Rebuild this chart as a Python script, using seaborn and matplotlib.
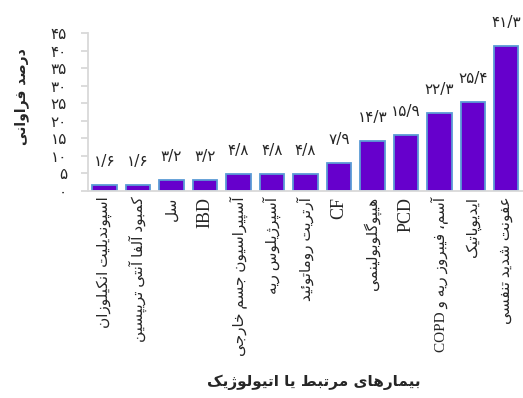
import matplotlib
matplotlib.use("Agg")
import matplotlib.pyplot as plt
import seaborn as sns
import pandas as pd

# ---------------- data ----------------
categories = [
    "اسپوندیلیت انکیلوزان",
    "کمبود آلفا آنتی تریپسین",
    "سل",
    "IBD",
    "آسپیراسیون جسم خارجی",
    "آسپرژیلوس ریه",
    "آرتریت روماتوئید",
    "CF",
    "هیپوگلوبولینمی",
    "PCD",
    "آسم، فیبروز ریه و COPD",
    "ایدیوپاتیک",
    "عفونت شدید تنفسی",
]
values = [1.6, 1.6, 3.2, 3.2, 4.8, 4.8, 4.8, 7.9, 14.3, 15.9, 22.3, 25.4, 41.3]
y_ticks = [0, 5, 10, 15, 20, 25, 30, 35, 40, 45]
y_label = "درصد فراوانی"
x_label = "بیمارهای مرتبط یا اتیولوژیک"

# ---------------- minimal Persian shaping ----------------
FORMS = {
    # char: (isolated, final, initial, medial)  None for right-joining-only
    "ا": ("\uFE8D", "\uFE8E", None, None),
    "آ": ("\uFE81", "\uFE82", None, None),
    "ب": ("\uFE8F", "\uFE90", "\uFE91", "\uFE92"),
    "پ": ("\uFB56", "\uFB57", "\uFB58", "\uFB59"),
    "ت": ("\uFE95", "\uFE96", "\uFE97", "\uFE98"),
    "ث": ("\uFE99", "\uFE9A", "\uFE9B", "\uFE9C"),
    "ج": ("\uFE9D", "\uFE9E", "\uFE9F", "\uFEA0"),
    "چ": ("\uFB7A", "\uFB7B", "\uFB7C", "\uFB7D"),
    "ح": ("\uFEA1", "\uFEA2", "\uFEA3", "\uFEA4"),
    "خ": ("\uFEA5", "\uFEA6", "\uFEA7", "\uFEA8"),
    "د": ("\uFEA9", "\uFEAA", None, None),
    "ذ": ("\uFEAB", "\uFEAC", None, None),
    "ر": ("\uFEAD", "\uFEAE", None, None),
    "ز": ("\uFEAF", "\uFEB0", None, None),
    "ژ": ("\uFB8A", "\uFB8B", None, None),
    "س": ("\uFEB1", "\uFEB2", "\uFEB3", "\uFEB4"),
    "ش": ("\uFEB5", "\uFEB6", "\uFEB7", "\uFEB8"),
    "ص": ("\uFEB9", "\uFEBA", "\uFEBB", "\uFEBC"),
    "ض": ("\uFEBD", "\uFEBE", "\uFEBF", "\uFEC0"),
    "ط": ("\uFEC1", "\uFEC2", "\uFEC3", "\uFEC4"),
    "ظ": ("\uFEC5", "\uFEC6", "\uFEC7", "\uFEC8"),
    "ع": ("\uFEC9", "\uFECA", "\uFECB", "\uFECC"),
    "غ": ("\uFECD", "\uFECE", "\uFECF", "\uFED0"),
    "ف": ("\uFED1", "\uFED2", "\uFED3", "\uFED4"),
    "ق": ("\uFED5", "\uFED6", "\uFED7", "\uFED8"),
    "ک": ("\uFB8E", "\uFB8F", "\uFB90", "\uFB91"),
    "گ": ("\uFB92", "\uFB93", "\uFB94", "\uFB95"),
    "ل": ("\uFEDD", "\uFEDE", "\uFEDF", "\uFEE0"),
    "م": ("\uFEE1", "\uFEE2", "\uFEE3", "\uFEE4"),
    "ن": ("\uFEE5", "\uFEE6", "\uFEE7", "\uFEE8"),
    "ه": ("\uFEE9", "\uFEEA", "\uFEEB", "\uFEEC"),
    "و": ("\uFEED", "\uFEEE", None, None),
    "ی": ("\uFBFC", "\uFBFD", "\uFBFE", "\uFBFF"),
    "ئ": ("\uFE89", "\uFE8A", "\uFE8B", "\uFE8C"),
}


def _dual(c):
    return c in FORMS and FORMS[c][2] is not None


def shape_rtl(s):
    out = []
    n = len(s)
    for i, c in enumerate(s):
        if c not in FORMS:
            out.append(c)
            continue
        prev_c = s[i - 1] if i > 0 else ""
        next_c = s[i + 1] if i + 1 < n else ""
        jp = _dual(prev_c)
        jn = _dual(c) and next_c in FORMS
        iso, fin, ini, med = FORMS[c]
        if jp and jn:
            out.append(med)
        elif jp:
            out.append(fin)
        elif jn:
            out.append(ini)
        else:
            out.append(iso)
    return "".join(out)


def visual(s):
    # split into latin runs and others, RTL paragraph
    tokens = []
    cur = ""
    cur_latin = None
    for c in s:
        is_lat = c.isascii() and c.isalnum()
        if cur_latin is None or is_lat == cur_latin or c == " " and cur_latin:
            if c == " " and cur_latin:
                tokens.append((cur, True))
                cur, cur_latin = c, False
                continue
            cur += c
            cur_latin = is_lat if cur_latin is None else cur_latin
        else:
            tokens.append((cur, cur_latin))
            cur, cur_latin = c, is_lat
    if cur:
        tokens.append((cur, cur_latin))
    res = []
    for t, lat in reversed(tokens):
        res.append(t if lat else shape_rtl(t)[::-1])
    return "".join(res)


def fa_num(v):
    d = "۰۱۲۳۴۵۶۷۸۹"
    s = str(v).replace(".", "/")
    return "".join(d[int(ch)] if ch.isdigit() else ch for ch in s)


# ---------------- plot ----------------
sns.set_theme(style="white")
plt.rcParams["font.family"] = ["Liberation Serif", "DejaVu Sans"]

df = pd.DataFrame({"cat": categories, "val": values})

fig = plt.figure(figsize=(5.23, 3.98), dpi=100)
ax = fig.add_axes([0.168, 0.52, 0.832, 0.397])

sns.barplot(data=df, x="cat", y="val", ax=ax, color="#6600CC", saturation=1,
            width=0.73, edgecolor="#5B9BD5", linewidth=1.3)

ax.set_ylim(0, 45)
ax.set_xlim(-0.5, len(categories) - 0.5)
ax.set_yticks(y_ticks)
ax.set_yticklabels([fa_num(t) for t in y_ticks], fontsize=11,
                   family=["DejaVu Sans"])
ax.set_xticks(range(len(categories)))
labels = [visual(c) for c in categories]
ax.set_xticklabels(labels, rotation=90, fontsize=11, va="top", ha="center")
for lbl, c in zip(ax.get_xticklabels(), categories):
    if c.isascii():
        lbl.set_fontsize(13)
    else:
        lbl.set_fontsize(11)

for i, v in enumerate(values):
    ax.annotate(fa_num(v), (i, v), xytext=(0, 17), textcoords="offset points",
                ha="center", va="center", fontsize=11, family=["DejaVu Sans"],
                annotation_clip=False)

for s in ["top", "right"]:
    ax.spines[s].set_visible(False)
for s in ["left", "bottom"]:
    ax.spines[s].set_color("#D9D9D9")
    ax.spines[s].set_linewidth(1.3)
ax.tick_params(axis="y", which="both", left=True, length=5, width=1.3,
               color="#D9D9D9", pad=10)
ax.tick_params(axis="x", length=0, pad=4)

ax.set_xlabel("")
ax.set_ylabel("")
fig.text(0.042, 0.756, visual(y_label), rotation=90, ha="center", va="center",
         fontsize=10, fontweight="bold", family=["DejaVu Sans"])
fig.text(0.600, 0.04, visual(x_label), ha="center", va="center",
         fontsize=11, fontweight="bold", family=["DejaVu Sans"])

fig.savefig("out.png", dpi=100)
